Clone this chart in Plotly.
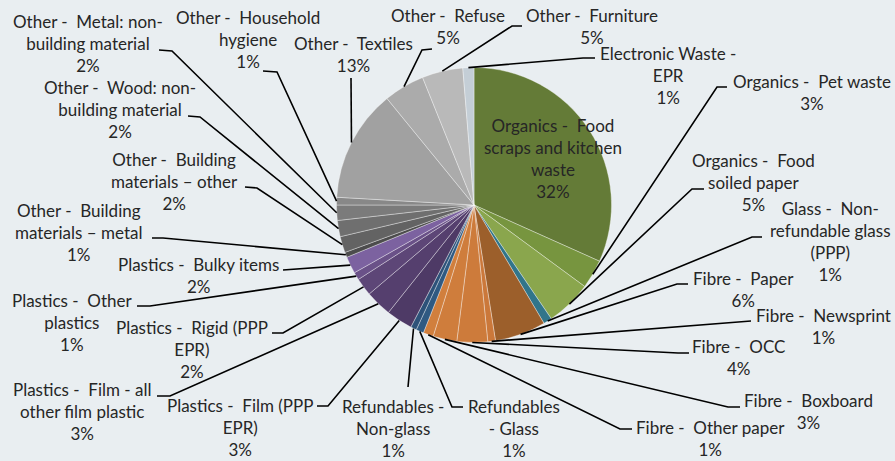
import math
import plotly.graph_objects as go

# ---------------- data ----------------
categories = [
    "Organics -  Food\nscraps and kitchen\nwaste",
    "Organics -  Pet waste",
    "Organics -  Food\nsoiled paper",
    "Glass -  Non-\nrefundable glass\n(PPP)",
    "Fibre -  Paper",
    "Fibre -  Newsprint",
    "Fibre -  OCC",
    "Fibre -  Boxboard",
    "Fibre -  Other paper",
    "Refundables\n- Glass",
    "Refundables -\nNon-glass",
    "Plastics -  Film (PPP\nEPR)",
    "Plastics -  Film - all\nother film plastic",
    "Plastics -  Rigid (PPP\nEPR)",
    "Plastics -  Other\nplastics",
    "Plastics -  Bulky items",
    "Other -  Building\nmaterials \u2013 metal",
    "Other -  Building\nmaterials \u2013 other",
    "Other -  Wood: non-\nbuilding material",
    "Other -  Metal: non-\nbuilding material",
    "Other -  Household\nhygiene",
    "Other -  Textiles",
    "Other -  Refuse",
    "Other -  Furniture",
    "Electronic Waste -\nEPR",
]
values = [31.7, 3.4, 5.4, 1.0, 6.0, 0.9, 3.6, 2.8, 1.2, 0.9, 0.7,
          3.1, 3.1, 2.1, 0.9, 2.0, 0.6, 1.9, 1.9, 1.8, 0.9, 13.2, 4.8, 4.8, 1.3]

colors = [
    "#647b37", "#77953f", "#8aa64d", "#31758a",
    "#9c5f2b", "#cb783a", "#cd7b3b", "#cf7d3c", "#d17f3d",
    "#2f5a82", "#2d5279",
    "#4e3a66", "#553f6e", "#5d4677", "#6a5188", "#7c62a0",
    "#4c4c4c", "#636363", "#6f6f6f", "#7b7b7b", "#888888",
    "#a1a1a1", "#ababab", "#b9b9b9", "#c4ced6",
]

# ---------------- layout (pixels) ----------------
W, H = 895, 461
CX, CY, R = 474, 205, 137.5
BG = "#e9eef1"
TXT = "#262626"

# (label centre x, label centre y, leader start, leader elbow)
label_pos = [
    (553, 159, None, None),
    (812, 93, (727, 87), (717, 87)),
    (753, 183, (704, 189), (692, 189)),
    (830, 242, (762, 237), (752, 237)),
    (743, 290, (688, 284), (677, 284)),
    (823, 327, (751, 321), None),
    (738, 358, (689, 353), (678, 353)),
    (808, 412, (740, 407), (728, 407)),
    (710, 439, (632, 429), (620, 429)),
    (514, 429, (463, 407), (452, 407)),
    (393, 429, (408, 387), None),
    (240, 428, (317, 406), (328, 406)),
    (82, 412, (157, 396), (170, 396)),
    (192, 350, (272, 333), (283, 333)),
    (72, 323, (137, 306), (150, 306)),
    (198, 276, (283, 270), None),
    (78, 233, (152, 238), (163, 238)),
    (174, 182, (245, 187), (257, 188)),
    (120, 110, (188, 116), (200, 117)),
    (88, 44, (159, 50), (172, 51)),
    (248, 40, (263, 71), (277, 72)),
    (353, 55, (351, 78), None),
    (448, 27, (432, 49), (422, 50)),
    (592, 27, (522, 26), (512, 26)),
    (668, 76, (595, 58), (583, 58)),
]


def px(x):
    return x / W


def py(y):
    return 1 - y / H


fig = go.Figure()
fig.add_trace(go.Pie(
    labels=[c.replace("\n", " ") for c in categories],
    values=values,
    sort=False,
    direction="clockwise",
    rotation=0,
    marker=dict(colors=colors, line=dict(color="rgba(255,255,255,0.45)", width=0.8)),
    textinfo="none",
    hoverinfo="label+percent",
    showlegend=False,
    domain=dict(x=[px(CX - R), px(CX + R)], y=[py(CY + R), py(CY - R)]),
))

total = sum(values)
cum = 0.0
shapes = []
annotations = []
for cat, v, (lx, ly, start, elbow) in zip(categories, values, label_pos):
    mid = (cum + v / 2) / total * 2 * math.pi
    cum += v
    ex_, ey_ = CX + R * math.sin(mid), CY - R * math.cos(mid)
    text = cat.replace("  ", " \u00a0").replace("\n", "<br>") + "<br>" + f"{round(v / total * 100)}%"
    annotations.append(dict(
        x=px(lx), y=py(ly - 1), xref="paper", yref="paper", text=text,
        showarrow=False, xanchor="center", yanchor="middle", align="center",
        font=dict(family="Lato, Calibri, sans-serif", size=17, color=TXT),
    ))
    if start is not None:
        pts = [start] + ([elbow] if elbow else []) + [(ex_, ey_)]
        path = "M " + " L ".join(f"{px(a):.5f},{py(b):.5f}" for a, b in pts)
        shapes.append(dict(type="path", path=path, xref="paper", yref="paper",
                           line=dict(color="#000000", width=1.6)))

fig.update_layout(
    width=W, height=H,
    margin=dict(l=0, r=0, t=0, b=0),
    paper_bgcolor=BG, plot_bgcolor=BG,
    shapes=shapes, annotations=annotations,
)
fig.write_html(
    "out.html",
    config={"displayModeBar": False},
    post_script="document.body.style.margin='0';document.body.style.background='" + BG + "';",
)
